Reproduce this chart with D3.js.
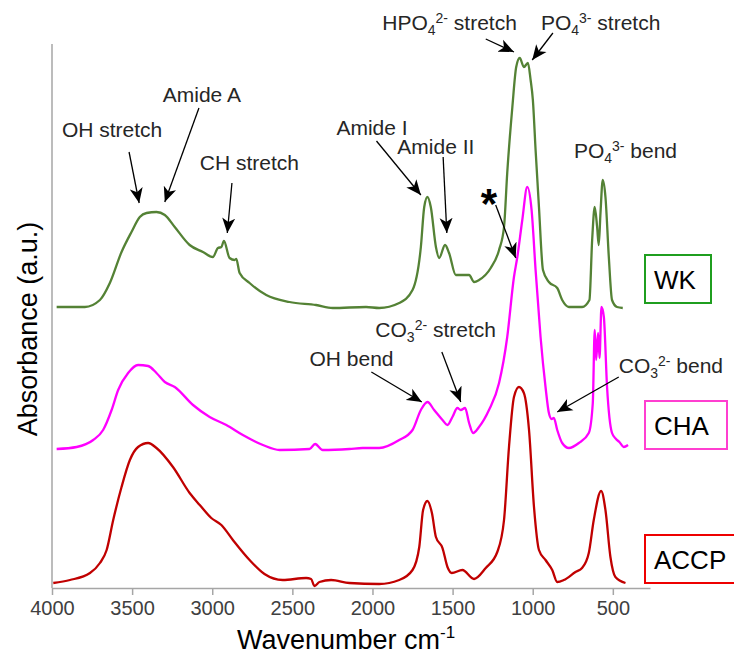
<!DOCTYPE html>
<html>
<head>
<meta charset="utf-8">
<script src="https://cdn.jsdelivr.net/npm/d3@7"></script>
<style>
  html, body { margin: 0; padding: 0; background: #fff; }
  svg { display: block; font-family: "Liberation Sans", Arial, sans-serif; }
</style>
</head>
<body>
<svg id="chart" width="734" height="657"></svg>
<script>
// ---------------- DATA ----------------
const seriesNames = ["WK", "CHA", "ACCP"];
const xTicks = [4000, 3500, 3000, 2500, 2000, 1500, 1000, 500];

// [wavenumber (cm-1), absorbance (a.u., stacked offset)]
const wkSpectrum = [
  [3971,2.81],[3795,2.81],[3701,2.88],[3639,3.05],[3566,3.36],[3504,3.56],[3452,3.71],[3410,3.75],
  [3348,3.76],[3296,3.73],[3234,3.61],[3141,3.43],[3058,3.36],[2996,3.31],[2964,3.40],[2943,3.41],
  [2927,3.47],[2892,3.30],[2860,3.28],[2850,3.29],[2829,3.15],[2767,3.05],[2663,2.93],[2518,2.86],
  [2352,2.83],[2248,2.80],[2040,2.81],[1958,2.80],[1833,2.85],[1750,2.98],[1698,3.41],[1677,3.81],
  [1657,3.91],[1636,3.81],[1604,3.41],[1584,3.30],[1547,3.43],[1522,3.35],[1480,3.13],[1397,3.13],
  [1366,3.06],[1335,3.08],[1262,3.20],[1210,3.38],[1179,3.61],[1159,4.15],[1127,4.81],[1103,5.21],
  [1081,5.30],[1055,5.21],[1030,5.25],[1013,5.08],[999,4.88],[982,4.38],[961,3.81],[936,3.18],
  [899,3.06],[847,3.00],[816,2.88],[774,2.81],[692,2.81],[646,2.88],[629,3.48],[613,3.81],
  [598,3.61],[588,3.43],[577,3.75],[563,4.08],[546,3.91],[525,3.31],[505,2.88],[474,2.81],[438,2.80]
];
const chaSpectrum = [
  [3971,1.39],[3846,1.41],[3743,1.48],[3681,1.58],[3628,1.78],[3587,1.98],[3525,2.15],[3463,2.23],
  [3400,2.22],[3348,2.15],[3296,2.06],[3234,2.01],[3120,1.83],[3016,1.71],[2912,1.63],[2809,1.53],
  [2684,1.43],[2580,1.38],[2393,1.39],[2358,1.44],[2311,1.38],[2144,1.39],[2062,1.40],[1958,1.40],
  [1833,1.48],[1750,1.58],[1698,1.78],[1657,1.86],[1615,1.78],[1563,1.68],[1532,1.63],[1501,1.71],
  [1470,1.80],[1449,1.78],[1422,1.80],[1397,1.65],[1372,1.55],[1335,1.61],[1273,1.78],[1210,2.05],
  [1159,2.51],[1117,3.11],[1096,3.31],[1065,3.68],[1034,4.01],[1007,3.78],[982,3.18],[951,2.51],
  [920,2.01],[899,1.75],[882,1.69],[868,1.70],[847,1.58],[816,1.45],[774,1.40],[712,1.45],
  [650,1.55],[625,1.85],[613,2.58],[604,2.28],[592,2.55],[583,2.30],[571,2.81],[556,2.71],
  [536,2.01],[505,1.55],[480,1.49],[459,1.46],[432,1.41],[405,1.43]
];
const accpSpectrum = [
  [3992,0.05],[3888,0.08],[3763,0.15],[3701,0.25],[3659,0.38],[3618,0.68],[3566,1.01],[3514,1.28],
  [3463,1.41],[3400,1.45],[3348,1.40],[3245,1.21],[3141,0.95],[3078,0.83],[3006,0.70],[2943,0.63],
  [2871,0.48],[2767,0.28],[2674,0.14],[2560,0.08],[2414,0.10],[2383,0.09],[2362,0.02],[2331,0.06],
  [2258,0.08],[2144,0.05],[1958,0.04],[1833,0.08],[1750,0.18],[1708,0.41],[1684,0.78],[1657,0.87],
  [1629,0.75],[1604,0.51],[1563,0.40],[1532,0.21],[1505,0.15],[1439,0.18],[1366,0.09],[1293,0.20],
  [1221,0.36],[1179,0.68],[1148,1.41],[1117,1.91],[1086,2.01],[1055,1.95],[1023,1.58],[992,0.81],
  [961,0.38],[920,0.28],[878,0.18],[847,0.06],[806,0.08],[733,0.16],[692,0.20],[650,0.35],
  [619,0.68],[573,0.97],[546,0.78],[515,0.31],[484,0.11],[421,0.05]
];

// Band assignments: label parts, label anchor (wn, abs), arrow tail and tip (wn, abs)
const bandLabels = [
  { parts:[["OH stretch"]], at:[3938,4.51], tail:[3519,4.36], tip:[3456,3.85] },
  { parts:[["Amide A"]], at:[3309,4.86], tail:[3083,4.80], tip:[3296,3.86] },
  { parts:[["CH stretch"]], at:[3078,4.18], tail:[2877,4.05], tip:[2906,3.55] },
  { parts:[["Amide I"]], at:[2225,4.53], tail:[1975,4.47], tip:[1698,3.93] },
  { parts:[["Amide II"]], at:[1845,4.34], tail:[1559,4.31], tip:[1536,3.55] },
  { parts:[["HPO"],["4","sub"],["2-","sup"],[" stretch"]], at:[1939,5.58], tail:[1293,5.49], tip:[1117,5.36] },
  { parts:[["PO"],["4","sub"],["3-","sup"],[" stretch"]], at:[949,5.58], tail:[874,5.55], tip:[1003,5.28] },
  { parts:[["PO"],["4","sub"],["3-","sup"],[" bend"]], at:[743,4.30] },
  { parts:[["*"]], at:[1325,3.70], bold:true, tail:[1231,3.83], tip:[1106,3.30] },
  { parts:[["OH bend"]], at:[2393,2.22], tail:[2007,2.16], tip:[1692,1.86] },
  { parts:[["CO"],["3","sub"],["2-","sup"],[" stretch"]], at:[1982,2.51], tail:[1567,2.36], tip:[1449,1.86] },
  { parts:[["CO"],["3","sub"],["2-","sup"],[" bend"]], at:[463,2.15], tail:[463,2.11], tip:[847,1.76] }
];

// ---------------- LAYOUT ----------------
const svg = d3.select("#chart");
const x = d3.scaleLinear().domain([4000, 268]).range([52, 650]);
const y = d3.scaleLinear().domain([0, 5.44]).range([588, 44]);

const lineColors = { WK: "#548235", CHA: "#ff00ff", ACCP: "#c00000" };
const boxColors  = { WK: "#1f9e1f", CHA: "#ff3fd0", ACCP: "#ee0000" };
const spectra = { WK: wkSpectrum, CHA: chaSpectrum, ACCP: accpSpectrum };

// axes
const axisColor = "#a6a6a6";
svg.append("line").attr("x1", 52).attr("x2", 52).attr("y1", y(5.44)).attr("y2", y(0))
  .attr("stroke", axisColor).attr("stroke-width", 1.5);

const xAxis = svg.append("g").attr("transform", `translate(0,${y(0)})`)
  .call(d3.axisBottom(x).tickValues(xTicks).tickFormat(d3.format("d"))
    .tickSize(7).tickSizeOuter(0).tickPadding(6));
xAxis.select(".domain").attr("stroke", axisColor).attr("stroke-width", 1.5);
xAxis.selectAll(".tick line").attr("stroke", axisColor).attr("stroke-width", 1.5);
xAxis.selectAll(".tick text").attr("fill", "#404040")
  .style("font-size", "20px").style("font-family", "Liberation Sans, Arial, sans-serif");

// axis titles
const xt = svg.append("text").attr("x", 346).attr("y", 649).attr("text-anchor", "middle")
  .attr("fill", "#000").style("font-size", "27px");
xt.append("tspan").text("Wavenumber cm");
xt.append("tspan").text("-1").style("font-size", "17px").attr("dy", -11);

svg.append("text").attr("transform", "translate(37,329) rotate(-90)")
  .attr("text-anchor", "middle").attr("fill", "#000").style("font-size", "27px")
  .text("Absorbance (a.u.)");

// spectra
const line = d3.line().x(d => x(d[0])).y(d => y(d[1])).curve(d3.curveMonotoneX);
seriesNames.forEach(name => {
  svg.append("path").datum(spectra[name]).attr("d", line)
    .attr("fill", "none").attr("stroke", lineColors[name])
    .attr("stroke-width", 2.3).attr("stroke-linejoin", "round");
});

// arrow marker
svg.append("defs").append("marker").attr("id", "ah")
  .attr("viewBox", "-15 -7 16 14").attr("refX", 0).attr("refY", 0)
  .attr("markerWidth", 16).attr("markerHeight", 14)
  .attr("markerUnits", "userSpaceOnUse").attr("orient", "auto")
  .append("path").attr("d", "M0,0 L-15,-6.5 L-11,0 L-15,6.5 Z").attr("fill", "#000");

// band labels and arrows
bandLabels.forEach(b => {
  if (b.tail) {
    svg.append("line")
      .attr("x1", x(b.tail[0])).attr("y1", y(b.tail[1]))
      .attr("x2", x(b.tip[0])).attr("y2", y(b.tip[1]))
      .attr("stroke", "#000").attr("stroke-width", 1.3).attr("marker-end", "url(#ah)");
  }
  const t = svg.append("text").attr("x", x(b.at[0])).attr("y", y(b.at[1]))
    .attr("fill", b.bold ? "#000" : "#262626")
    .style("font-size", b.bold ? "42px" : "21px")
    .style("font-weight", b.bold ? "bold" : "normal");
  let shift = 0;
  b.parts.forEach(p => {
    const s = t.append("tspan").text(p[0]);
    if (p[1] === "sub") { s.style("font-size", "14px").attr("dy", 5 - shift); shift = 5; }
    else if (p[1] === "sup") { s.style("font-size", "14px").attr("dy", -7 - shift); shift = -7; }
    else { if (shift) s.attr("dy", -shift); shift = 0; }
  });
});

// sample legend boxes
const boxes = [
  { name: "WK",   x0: 645, y0: 255, w: 66 },
  { name: "CHA",  x0: 645, y0: 401, w: 82 },
  { name: "ACCP", x0: 645, y0: 535, w: 96 }
];
boxes.forEach(bx => {
  svg.append("rect").attr("x", bx.x0).attr("y", bx.y0).attr("width", bx.w).attr("height", 48)
    .attr("fill", "#fff").attr("stroke", boxColors[bx.name]).attr("stroke-width", 2);
  svg.append("text").attr("x", bx.x0 + 9).attr("y", bx.y0 + 34)
    .attr("fill", "#000").style("font-size", "26px").text(bx.name);
});
</script>
</body>
</html>
